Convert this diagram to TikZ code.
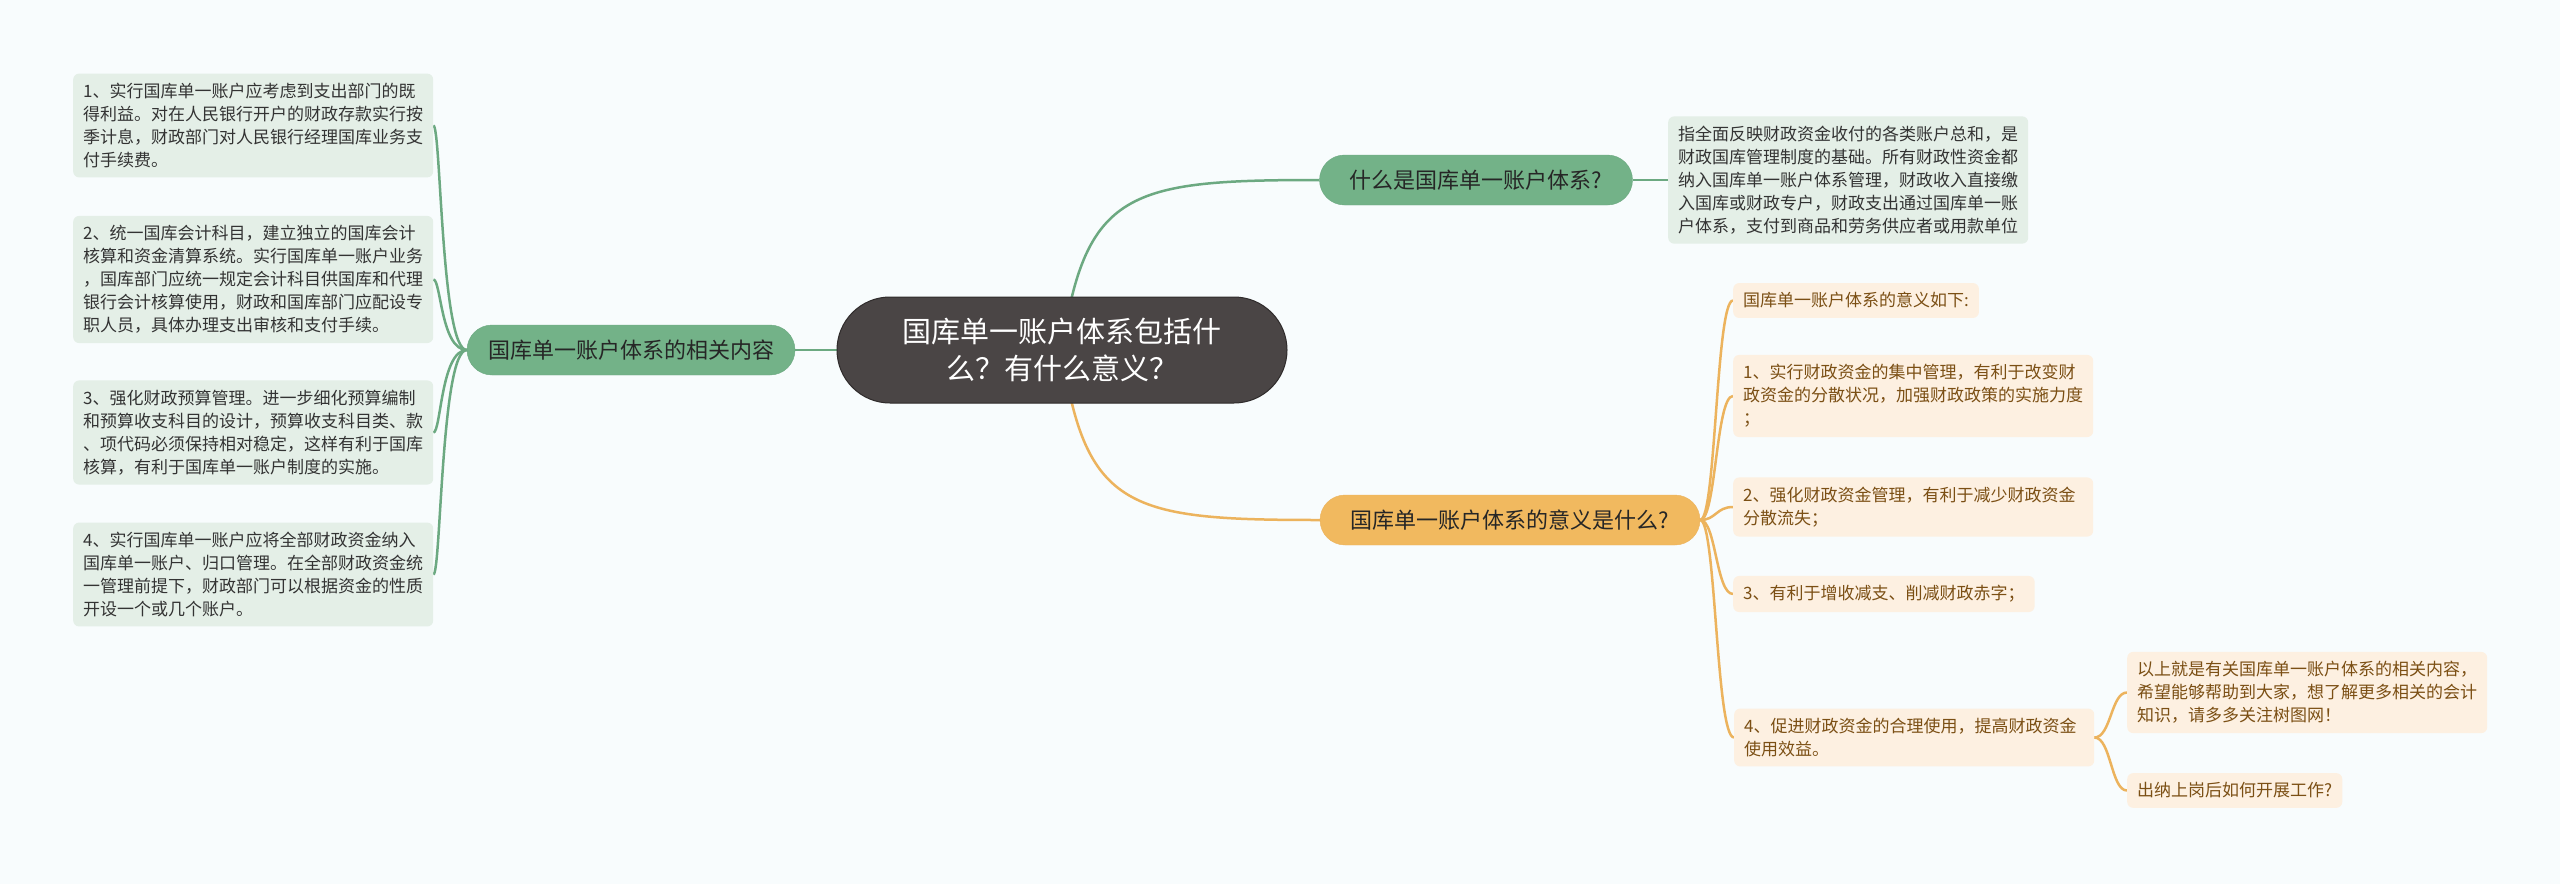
\documentclass[tikz,border=0pt]{standalone}
\usepackage{fontspec}
\usepackage{tikz}
\usetikzlibrary{backgrounds}
\newfontfamily\cjk{Noto Sans CJK SC}
\definecolor{bgc}{HTML}{F8FCFD}
\definecolor{hubfill}{HTML}{4A4545}
\definecolor{hubline}{HTML}{2F2B2B}
\definecolor{gfill}{HTML}{73B288}
\definecolor{gline}{HTML}{6CA981}
\definecolor{lgfill}{HTML}{E4EFE7}
\definecolor{ofill}{HTML}{F1B95F}
\definecolor{oline}{HTML}{ECB35D}
\definecolor{lofill}{HTML}{FDF0E1}
\definecolor{otext}{HTML}{7B4F14}
\definecolor{dtext}{HTML}{333333}

\begin{document}
\begin{tikzpicture}[x=1pt, y=-1pt, font=\cjk,
  hub/.style={draw=hubline, line width=1pt, fill=hubfill, text=white, rounded corners=53pt, minimum width=450pt, minimum height=106pt, align=center, font=\cjk\fontsize{29pt}{37pt}\selectfont},
  gtopic/.style={draw=gline, fill=gfill, text=black!85, rounded corners=25pt, minimum height=50pt, font=\cjk\fontsize{22pt}{26pt}\selectfont},
  otopic/.style={draw=oline, fill=ofill, text=black!85, rounded corners=25pt, minimum height=50pt, font=\cjk\fontsize{22pt}{26pt}\selectfont},
  gb/.style={fill=lgfill, text=dtext, rounded corners=6pt, anchor=west, align=left, inner xsep=10pt, inner ysep=9.5pt, font=\cjk\fontsize{17pt}{23pt}\selectfont},
  ob/.style={fill=lofill, text=otext, rounded corners=6pt, anchor=west, align=left, inner xsep=10pt, inner ysep=9.5pt, font=\cjk\fontsize{17pt}{23pt}\selectfont},
  wide/.style={text width=340pt},
  gl/.style={draw=gline, line width=2.5pt},
  ol/.style={draw=oline, line width=2.5pt}
]
\useasboundingbox (0,0) rectangle (2560,884);

% centre and the three topics
\node[hub] (ctr) at (1062,350) {国库单一账户体系包括什\\么？有什么意义？};
\node[gtopic, minimum width=328pt] (rel) at (631,350) {国库单一账户体系的相关内容};
\node[gtopic, minimum width=313pt] (what) at (1476,180) {什么是国库单一账户体系?};
\node[otopic, minimum width=380pt] (mean) at (1510,520) {国库单一账户体系的意义是什么?};

% left: related content
\node[gb, wide] (rel1) at (73,125.5) {1、实行国库单一账户应考虑到支出部门的既\\得利益。对在人民银行开户的财政存款实行按\\季计息，财政部门对人民银行经理国库业务支\\付手续费。};
\node[gb, wide] (rel2) at (73,279.5) {2、统一国库会计科目，建立独立的国库会计\\核算和资金清算系统。实行国库单一账户业务\\，国库部门应统一规定会计科目供国库和代理\\银行会计核算使用，财政和国库部门应配设专\\职人员，具体办理支出审核和支付手续。};
\node[gb, wide] (rel3) at (73,432.5) {3、强化财政预算管理。进一步细化预算编制\\和预算收支科目的设计，预算收支科目类、款\\、项代码必须保持相对稳定，这样有利于国库\\核算，有利于国库单一账户制度的实施。};
\node[gb, wide] (rel4) at (73,574.5) {4、实行国库单一账户应将全部财政资金纳入\\国库单一账户、归口管理。在全部财政资金统\\一管理前提下，财政部门可以根据资金的性质\\开设一个或几个账户。};

% right top: definition
\node[gb, wide] (def) at (1668,180) {指全面反映财政资金收付的各类账户总和，是\\财政国库管理制度的基础。所有财政性资金都\\纳入国库单一账户体系管理，财政收入直接缴\\入国库或财政专户，财政支出通过国库单一账\\户体系，支付到商品和劳务供应者或用款单位};

% right bottom: meaning
\node[ob] (m0) at (1733,300.5) {国库单一账户体系的意义如下:};
\node[ob, wide] (m1) at (1733,396) {1、实行财政资金的集中管理，有利于改变财\\政资金的分散状况，加强财政政策的实施力度\\；};
\node[ob, wide] (m2) at (1733,507) {2、强化财政资金管理，有利于减少财政资金\\分散流失；};
\node[ob] (m3) at (1733,594) {3、有利于增收减支、削减财政赤字；};
\node[ob, wide] (m4) at (1734,737.5) {4、促进财政资金的合理使用，提高财政资金\\使用效益。};
\node[ob, wide] (f1) at (2127,692.5) {以上就是有关国库单一账户体系的相关内容，\\希望能够帮助到大家，想了解更多相关的会计\\知识，请多多关注树图网！};
\node[ob] (f2) at (2127,790.5) {出纳上岗后如何开展工作?};

\begin{scope}[on background layer]
\fill[bgc] (0,0) rectangle (2560,884);
\draw[gl] (ctr.center) .. controls (1085,190) and (1130,180) .. (what.west);
\draw[ol] (ctr.center) .. controls (1085,510) and (1130,520) .. (mean.west);
\draw[gl] (ctr.west) -- (rel.east);
\draw[gl] (what.east) -- (def.west);
\foreach \k in {rel1,rel2,rel3,rel4}
  \draw[gl] (rel.west) .. controls (441,350) and (441,0 |- \k.east) .. (\k.east);
\foreach \k in {m0,m1,m2,m3,m4}
  \draw[ol] (mean.east) .. controls (1716,520) and (1716,0 |- \k.west) .. (\k.west);
\foreach \k in {f1,f2}
  \draw[ol] (m4.east) .. controls (2111,737.5) and (2111,0 |- \k.west) .. (\k.west);
\end{scope}
\end{tikzpicture}
\end{document}
